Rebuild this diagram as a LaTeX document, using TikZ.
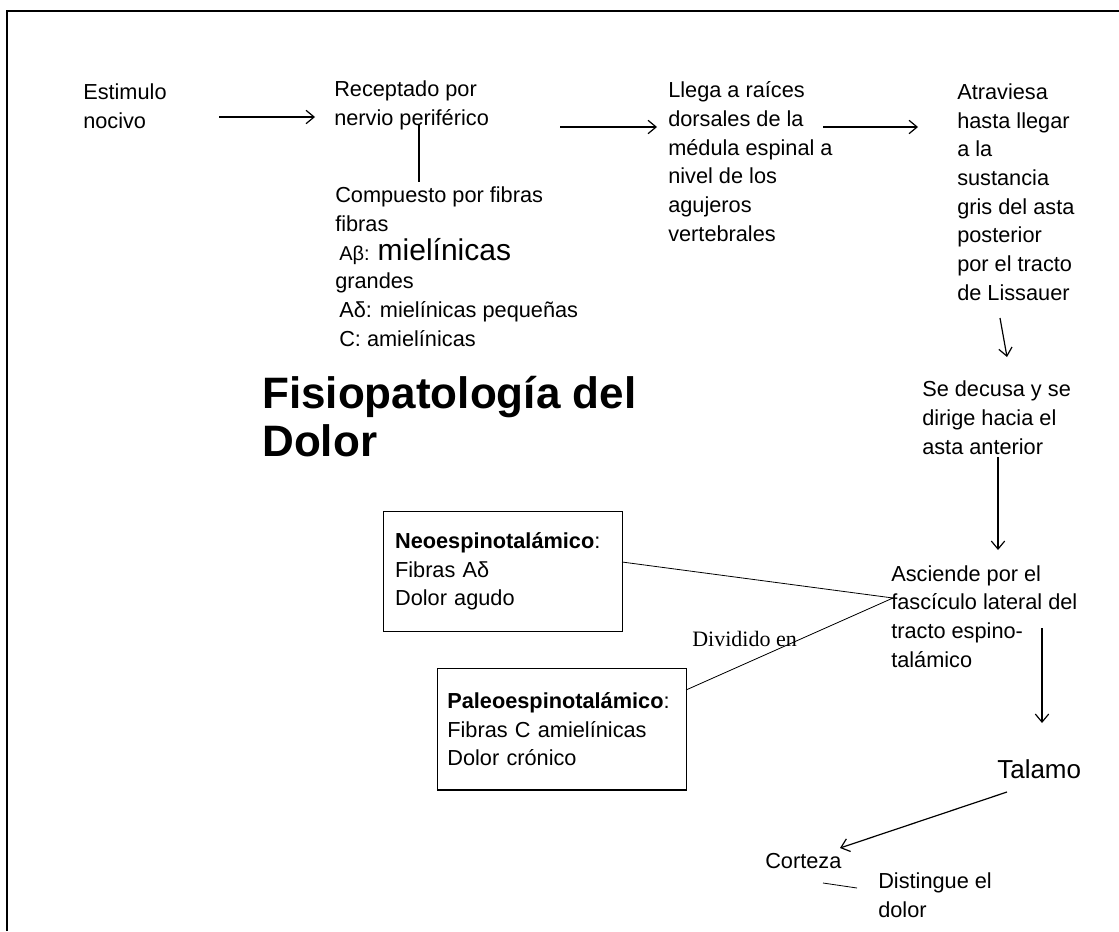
\documentclass[tikz,border=0pt]{standalone}
\usepackage{fontspec}
\setmainfont{Liberation Sans}
\newfontfamily\serifDolor{Liberation Serif}
\usetikzlibrary{positioning,arrows.meta}

\begin{document}
\begin{tikzpicture}[x=0.75pt, y=-0.75pt, every node/.style={inner sep=0pt, anchor=base west, align=left, font=\fontsize{16.3}{21.5}\selectfont}, flecha/.style={-{Straight Barb[length=6pt,width=10pt]}, line width=0.9pt}] % Fisiopatologia
\newcommand{\grosorCaja}{0.9pt}
\useasboundingbox (0,0) rectangle (1119,931);
\draw[line width=1.5pt] (7,931) -- (7,11) -- (1119,11); % marco
% textos (base = ultima linea)
\node (estimulo) at (83,128) {Estimulo\\nocivo};
\node (receptado) at (334,125) {Receptado por\\nervio periférico};
\node (compuesto) at (335,346) {Compuesto por fibras\\fibras\\\hspace*{3pt}{\fontsize{15}{14}\selectfont Aβ:} {\fontsize{22.5}{21}\selectfont mielínicas}\\grandes\\\hspace*{3pt}Aδ: mielínicas pequeñas\\\hspace*{3pt}C: amielínicas};
\node (llega) at (668,241) {Llega a raíces\\dorsales de la\\médula espinal a\\nivel de los\\agujeros\\vertebrales};
\node (atraviesa) at (957,300) {Atraviesa\\hasta llegar\\a la\\sustancia\\gris del asta\\posterior\\por el tracto\\de Lissauer};
\node (decusa) at (922,454) {Se decusa y se\\dirige hacia el\\asta anterior};
\node (asciende) at (891,667) {Asciende por el\\fascículo lateral del\\tracto espino-\\talámico};
\node[font=\fontsize{19.5}{22}\selectfont] (talamo) at (997,778) {Talamo};
\node (corteza) at (765,868) {Corteza};
\node (distingue) at (878,917) {Distingue el\\dolor};
\node[font=\fontsize{33}{35.5}\selectfont\bfseries] (titulo) at (262,456) {Fisiopatología del\\Dolor};
\node[font=\serifDolor\fontsize{16.5}{18}\selectfont] (dividido) at (692,646) {Dividido en};
% cajas
\node[draw, line width=\grosorCaja, anchor=north west, text width=162pt, inner xsep=8.6pt, inner ysep=4pt, minimum height=90pt] (neo) at (383,511) {{\bfseries Neoespinotalámico}:\\Fibras Aδ\\Dolor agudo};
\node[draw, line width=\grosorCaja, anchor=north west, text width=172pt, inner xsep=7.3pt, inner ysep=4pt, minimum height=91pt] (paleo) at (437,668) {{\bfseries Paleoespinotalámico}:\\Fibras C amielínicas\\Dolor crónico};
% puntos de las flechas
\coordinate (a1s) at (219,117); \coordinate (a1e) at (315,117);
\coordinate (a2s) at (560,127); \coordinate (a2e) at (657,127);
\coordinate (a3s) at (823,127); \coordinate (a3e) at (918,127);
\coordinate (a4s) at (1000,318); \coordinate (a4e) at (1007,357);
\coordinate (a5s) at (998,457); \coordinate (a5e) at (998,550);
\coordinate (a6s) at (1042,628); \coordinate (a6e) at (1042,723);
\coordinate (a7s) at (1007,792); \coordinate (a7e) at (840,848);
\coordinate (vs) at (419,125); \coordinate (ve) at (419,182);
\coordinate (cs) at (823,883); \coordinate (ce) at (857,888);
\coordinate (neoSal) at (622,562); \coordinate (paleoSal) at (686,690); \coordinate (union) at (893,598);
\draw[flecha] (a1s) -- (a1e);
\draw[flecha] (a2s) -- (a2e);
\draw[flecha] (a3s) -- (a3e);
\draw[flecha] (a4s) -- (a4e);
\draw[flecha] (a5s) -- (a5e);
\draw[flecha] (a6s) -- (a6e);
\draw[flecha] (a7s) -- (a7e);
\draw[line width=1.2pt] (vs) -- (ve);
\draw[line width=0.6pt] (cs) -- (ce);
\draw[line width=0.6pt] (neoSal) -- (union) -- (paleoSal);
\end{tikzpicture}
\end{document}
